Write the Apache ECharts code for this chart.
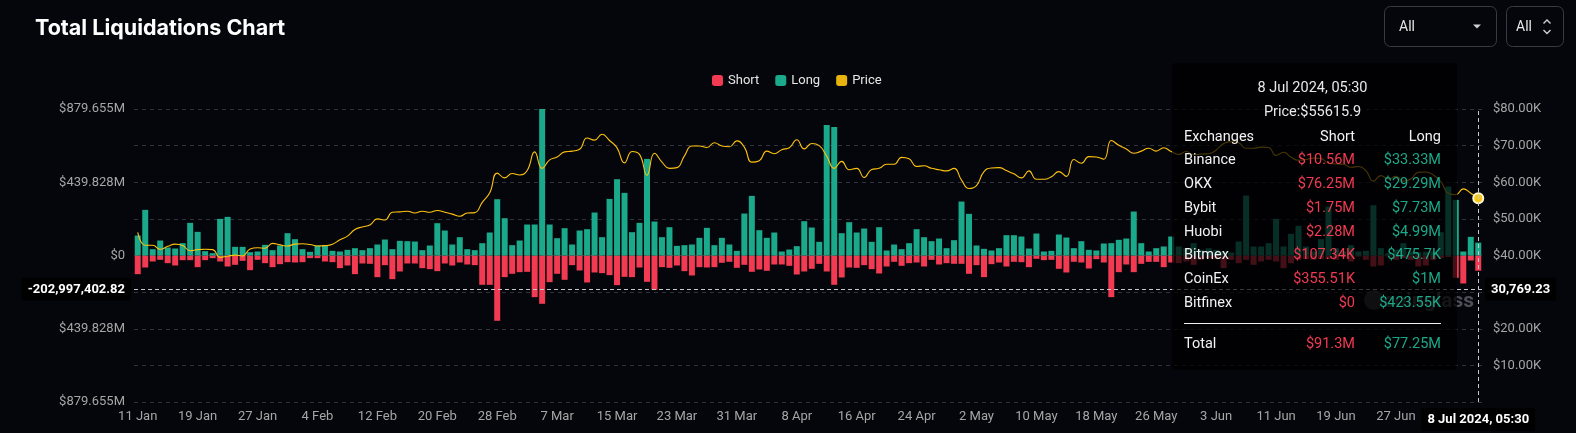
<!DOCTYPE html>
<html>
<head>
<meta charset="utf-8">
<script src="https://cdn.jsdelivr.net/npm/echarts@6/dist/echarts.min.js"></script>
<style>
html,body{margin:0;padding:0;background:#05060c;}
#c{width:1576px;height:433px;}
</style>
</head>
<body>
<div id="c"></div>
<script>
// ---------------- data ----------------
const chartTitle = 'Total Liquidations Chart';
const seriesNames = ['Short', 'Long', 'Price'];
const monthNames = ['Jan','Feb','Mar','Apr','May','Jun','Jul','Aug','Sep','Oct','Nov','Dec'];
const dayCount = 180;                       // 11 Jan 2024 .. 8 Jul 2024
const lastCategory = '8 Jul 2024, 05:30';

// Long liquidations (million USD), one per day
const longVals = [120,274,38,90,48,42,74,196,142,26,
14,220,232,52,52,20,24,64,32,60,
134,98,38,22,60,62,28,24,34,44,
32,44,66,96,38,88,86,84,32,60,
194,150,66,110,38,32,74,138,338,224,
62,90,186,186,879.655,186,104,164,66,150,
158,258,110,340,458,376,140,196,580,204,
110,170,58,62,66,106,166,62,106,66,
28,252,358,152,106,138,24,36,56,206,
168,82,784,772,134,200,138,162,82,170,
30,66,38,74,158,110,86,102,44,92,
324,250,60,40,30,44,122,122,114,42,
132,24,28,126,108,44,86,34,30,72,
74,94,102,264,74,24,44,54,114,54,
44,74,34,44,34,24,18,84,360,54,
54,74,220,54,130,178,54,24,98,294,
44,24,62,24,28,302,44,14,34,74,
24,20,22,24,140,414,334,24,112,77.25];

// Short liquidations (million USD, magnitude), one per day
const shortVals = [112,72,36,26,46,60,28,28,70,28,
16,36,66,56,32,88,26,46,70,52,
40,42,40,16,16,36,40,76,60,112,
48,50,130,58,142,96,48,48,76,82,
94,48,60,42,54,58,176,176,392,130,
110,100,98,250,290,160,110,146,58,90,
162,102,106,118,178,128,130,72,158,206,
70,74,60,94,120,70,72,70,44,38,
74,56,98,84,92,54,54,62,114,96,
80,50,96,176,132,72,74,58,82,108,
66,38,62,46,42,66,26,54,46,50,
50,110,58,130,52,42,66,38,40,70,
20,28,26,80,102,38,42,78,22,42,
250,100,54,100,50,38,38,70,42,46,
36,56,26,16,22,76,26,46,26,56,
36,26,36,76,46,26,22,26,22,22,
26,10,36,6,26,66,60,6,26,16,
26,66,60,26,16,8,134,168,30,91.3];

// BTC price (USD)
const priceVals = [46300,42800,42800,41700,42500,43100,42700,41300,41600,41700,
41600,39500,39800,40100,39900,41800,42100,42000,43300,42900,
42600,43100,43200,43000,42600,42700,43100,44300,45300,47100,
47800,48300,50000,49700,51800,51900,52100,51600,52100,51800,
52300,51800,51300,50700,51600,51700,54500,57100,62500,61200,
62400,62000,63200,68300,63800,66100,66900,68300,68500,69000,
72100,71500,73100,71400,69400,65300,68400,67600,61900,67900,
65500,63800,64000,67200,69900,69900,69500,70800,69900,69700,
71300,69600,65500,65900,68500,67800,68900,69400,71600,69100,
70600,70000,67100,63800,65700,63400,63800,61300,63500,63800,
64900,64900,66800,66400,64300,64500,63800,63400,63100,63800,
60600,58300,59100,62900,63900,64000,63200,62300,61200,63100,
60800,60800,61500,62900,61600,66200,65200,67000,66900,66300,
71400,70100,69100,67900,68500,69300,68500,69400,68400,67600,
68400,67500,67700,67800,68800,70600,71100,70800,69300,69300,
69600,69500,67300,68200,66800,66000,66200,66600,66500,65200,
65000,64900,64100,64300,63200,60300,61800,60900,61600,60300,
60900,62700,62800,62000,60200,57000,56600,58200,57000,55615.9];

// tooltip breakdown for the hovered day
const exchanges = ['Binance','OKX','Bybit','Huobi','Bitmex','CoinEx','Bitfinex'];
const exShort = [10.56e6, 76.25e6, 1.75e6, 2.28e6, 107.34e3, 355.51e3, 0];
const exLong  = [33.33e6, 29.29e6, 7.73e6, 4.99e6, 475.7e3, 1e6, 423.55e3];

// hover position of the crosshair (left axis value, million USD)
const hoverIndex = dayCount - 1;
const hoverLiqValue = -202.99740282;

// axis ranges
const liqMax = 879.6552, liqInterval = 219.9138;
const priceMax = 80000, priceInterval = 10000;

// ---------------- build ----------------
const categories = [];
for (let i = 0; i < dayCount; i++) {
  const d = new Date(Date.UTC(2024, 0, 11 + i));
  categories.push(d.getUTCDate() + ' ' + monthNames[d.getUTCMonth()] + ' 2024');
}
categories[dayCount - 1] = lastCategory;

const RED = '#f23a52', TEAL = '#1aa98a', YEL = '#e9b20e';
const FONT = 'Roboto, "Noto Sans", sans-serif';

function trimNum(s){ return s.replace(/0+$/,'').replace(/\.$/,''); }
function fmtMoney(v){
  if (v >= 1e6) return '$' + trimNum((v/1e6).toFixed(2)) + 'M';
  if (v >= 1e3) return '$' + trimNum((v/1e3).toFixed(2)) + 'K';
  return '$' + trimNum(v.toFixed(2));
}
function fmt2(v){ return v.toLocaleString('en-US',{minimumFractionDigits:2, maximumFractionDigits:2}); }

function tooltipHtml(params){
  const i = params[0].dataIndex;
  const row = (a,b,c,st) => '<div style="display:flex;height:23.8px;line-height:23.8px;'+(st||'')+'">' +
    '<div style="flex:1;text-align:left;color:#f2f2f2">'+a+'</div>' +
    '<div style="width:84px;text-align:right;'+(b.c||'')+'">'+b.t+'</div>' +
    '<div style="width:86px;text-align:right;'+(c.c||'')+'">'+c.t+'</div></div>';
  let h = '<div style="width:257px;font-family:'+FONT.replace(/"/g,"'")+';font-size:14.5px;color:#e8e8e8;">';
  h += '<div style="text-align:center;height:24px;line-height:24px">'+categories[i]+'</div>';
  h += '<div style="text-align:center;height:24.5px;line-height:24.5px">Price:$'+priceVals[i]+'</div>';
  h += row('Exchanges',{t:'Short',c:'color:#f2f2f2'},{t:'Long',c:'color:#f2f2f2'});
  for (let k = 0; k < exchanges.length; k++) {
    h += row(exchanges[k],{t:fmtMoney(exShort[k]),c:'color:'+RED},{t:fmtMoney(exLong[k]),c:'color:'+TEAL});
  }
  h += '<div style="height:1.5px;background:#f0f0f0;margin:8px 0 8px 0"></div>';
  h += row('Total',{t:fmtMoney(shortVals[i]*1e6),c:'color:'+RED},{t:fmtMoney(longVals[i]*1e6),c:'color:'+TEAL});
  h += '</div>';
  return h;
}

const ptrLabel = {show:true, backgroundColor:'#000', color:'#fff', fontSize:13, fontWeight:'bold', fontFamily:FONT, padding:[5,6], borderRadius:2};

const option = {
  backgroundColor:'#05060c',
  animation:false,
  textStyle:{fontFamily:FONT},
  title:{text:chartTitle, left:30, top:13, textStyle:{color:'#ffffff', fontSize:21.5, fontWeight:'bold', fontFamily:'Inter, Roboto, sans-serif'}},
  legend:{
    data:[
      {name:'Short', icon:'roundRect', itemStyle:{color:RED}},
      {name:'Long', icon:'roundRect', itemStyle:{color:TEAL}},
      {name:'Price', icon:'roundRect', itemStyle:{color:YEL, borderWidth:0}}
    ],
    left:707, top:69, itemWidth:11, itemHeight:11, itemGap:16,
    textStyle:{color:'#e6e6e6', fontSize:13, fontFamily:FONT}
  },
  grid:{left:134, right:94, top:109, bottom:31, containLabel:false, outerBoundsMode:'none'},
  tooltip:{
    trigger:'axis', triggerOn:'none', alwaysShowContent:true, transitionDuration:0,
    backgroundColor:'rgba(0,0,0,0.72)', borderWidth:0, padding:[13,16,14,12],
    extraCssText:'box-shadow:none;border-radius:4px;',
    position:function(){ return [1172, 63]; },
    axisPointer:{type:'cross', crossStyle:{color:'#c8c8c8', type:[4,3], width:1},
      lineStyle:{color:'#c8c8c8', type:[4,3], width:1}, label:ptrLabel},
    formatter:tooltipHtml
  },
  xAxis:{
    type:'category', data:categories, boundaryGap:true,
    axisLine:{show:false}, axisTick:{show:false}, splitLine:{show:false},
    axisLabel:{interval:7, color:'#a6a6a6', fontSize:13, margin:8, hideOverlap:false,
      formatter:function(v){ const p = v.split(' '); return p[0]+' '+p[1].replace(',',''); }},
    axisPointer:{label:Object.assign({}, ptrLabel, {formatter:function(p){ return p.value; }, margin:6})}
  },
  yAxis:[{
    type:'value', position:'left', min:-liqMax, max:liqMax, interval:liqInterval,
    axisLine:{show:false}, axisTick:{show:false},
    splitLine:{show:true, lineStyle:{color:'#30333b', type:[4,4], width:1}},
    axisLabel:{color:'#a6a6a6', fontSize:13, margin:9,
      formatter:function(v){
        const k = Math.round(v/liqInterval);
        if (k % 2 !== 0) return '';
        if (k === 0) return '$0';
        return '$' + Math.abs(v).toFixed(3) + 'M';
      }},
    axisPointer:{label:Object.assign({}, ptrLabel, {formatter:function(p){ return fmt2(p.value*1e6); }})}
  },{
    type:'value', position:'right', min:0, max:priceMax, interval:priceInterval,
    axisLine:{show:false}, axisTick:{show:false}, splitLine:{show:false},
    axisLabel:{color:'#a6a6a6', fontSize:13, margin:11,
      formatter:function(v){ return v === 0 ? '' : '$' + (v/1000).toFixed(2) + 'K'; }},
    axisPointer:{label:Object.assign({}, ptrLabel, {formatter:function(p){ return fmt2(p.value); }})}
  }],
  series:[
    {name:'Short', type:'bar', stack:'liq', yAxisIndex:0, barCategoryGap:'20%',
      itemStyle:{color:RED}, emphasis:{disabled:true},
      data:shortVals.map(v => -v)},
    {name:'Long', type:'bar', stack:'liq', yAxisIndex:0, barCategoryGap:'20%',
      itemStyle:{color:TEAL}, emphasis:{disabled:true},
      data:longVals},
    {name:'Price', type:'line', yAxisIndex:1, smooth:true, showSymbol:false, symbol:'circle', symbolSize:10,
      lineStyle:{color:YEL, width:1.1}, itemStyle:{color:'#f5c518', borderColor:'#fff8d0', borderWidth:2},
      emphasis:{scale:false, itemStyle:{color:'#f5c518', borderColor:'#fff8d0', borderWidth:2}},
      z:5, data:priceVals}
  ],
  graphic:[
    {type:'text', z:1, style:{x:1474, y:302, text:'coinglass', align:'right', verticalAlign:'middle',
      fill:'rgba(150,150,160,0.5)', font:'bold 21px '+FONT}},
    {type:'circle', z:1, shape:{cx:1374, cy:300, r:10}, style:{fill:'rgba(150,150,160,0.35)'}},
    {type:'rect', shape:{x:1384.5, y:6.5, width:112, height:40, r:6}, style:{fill:'rgba(0,0,0,0)', stroke:'#383b44', lineWidth:1}},
    {type:'text', style:{x:1399, y:27, text:'All', verticalAlign:'middle', fill:'#e6e6e6', font:'14px '+FONT}},
    {type:'polygon', shape:{points:[[1473,24.5],[1481,24.5],[1477,28.5]]}, style:{fill:'#d0d0d0'}},
    {type:'rect', shape:{x:1506.5, y:6.5, width:57, height:40, r:6}, style:{fill:'rgba(0,0,0,0)', stroke:'#383b44', lineWidth:1}},
    {type:'text', style:{x:1516, y:27, text:'All', verticalAlign:'middle', fill:'#e6e6e6', font:'14px '+FONT}},
    {type:'polyline', shape:{points:[[1543.5,23.5],[1547,20],[1550.5,23.5]]}, style:{stroke:'#d0d0d0', lineWidth:1.4, fill:null}},
    {type:'polyline', shape:{points:[[1543.5,30],[1547,33.5],[1550.5,30]]}, style:{stroke:'#d0d0d0', lineWidth:1.4, fill:null}}
  ]
};

const chart = echarts.init(document.getElementById('c'), null, {renderer:'canvas'});
chart.setOption(option);
const px = chart.convertToPixel({xAxisIndex:0}, hoverIndex);
const py = chart.convertToPixel({yAxisIndex:0}, hoverLiqValue);
chart.dispatchAction({type:'showTip', x:px, y:py});
</script>
</body>
</html>
